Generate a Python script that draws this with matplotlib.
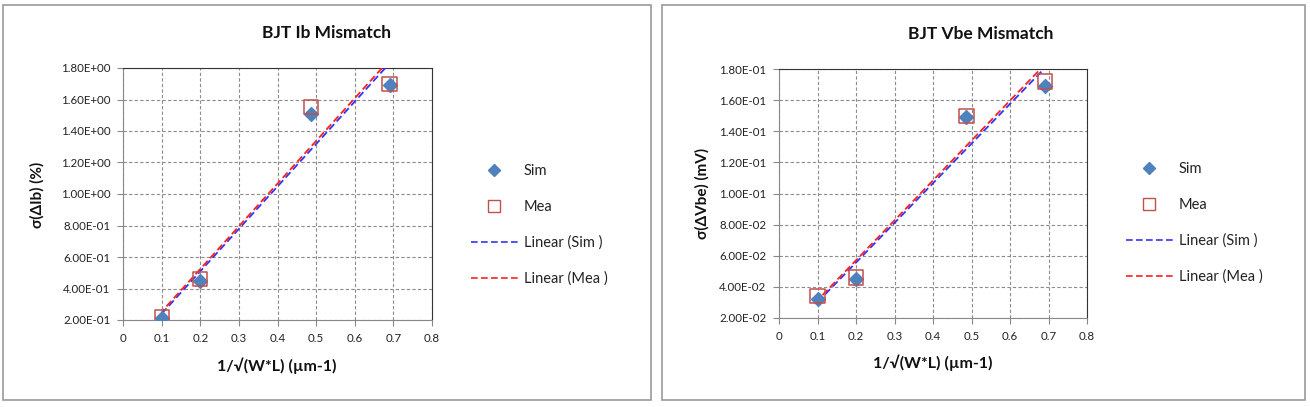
import numpy as np
import matplotlib
matplotlib.use("Agg")
import matplotlib.pyplot as plt
from matplotlib.patches import Rectangle
from matplotlib.ticker import FuncFormatter, MultipleLocator
from matplotlib.lines import Line2D

plt.rcParams['font.family'] = ['Lato', 'DejaVu Sans']

# data
x_vals = [0.1, 0.2, 0.487, 0.69]
ib_sim = [0.21, 0.45, 1.51, 1.69]
ib_mea = [0.22, 0.46, 1.55, 1.70]
vbe_sim = [0.032, 0.045, 0.149, 0.169]
vbe_mea = [0.034, 0.046, 0.150, 0.172]

titles = ["BJT Ib Mismatch", "BJT Vbe Mismatch"]
ylabels = ["σ(ΔIb) (%)", "σ(ΔVbe) (mV)"]
xlabel = "1/√(W*L) (µm-1)"
legend_labels = ["Sim", "Mea", "Linear (Sim )", "Linear (Mea )"]
ylims = [(0.2, 1.8), (0.02, 0.18)]
ysteps = [0.2, 0.02]

W, H = 1310, 407
fig = plt.figure(figsize=(W / 100, H / 100), dpi=100)

def fx(px):
    return px / W

def fy(py):
    return 1 - py / H

# chart frames
for (x0, y0, x1, y1) in [(3, 5, 651, 400), (662, 5, 1305, 400)]:
    fig.patches.append(Rectangle((fx(x0), fy(y1)), fx(x1 - x0), (y1 - y0) / H,
                                 transform=fig.transFigure, fill=False,
                                 edgecolor='#9a9a9a', linewidth=1.2))

axes_px = [(123, 68, 432, 320), (779, 69, 1087, 318)]
title_pos = [(326, 33), (981, 34)]
ylabel_pos = [(37, 195), (702, 193)]
xlabel_pos = [(277, 366), (933, 363)]
legend_anchor = [(458, 225), (1113, 223)]

series = [(ib_sim, ib_mea), (vbe_sim, vbe_mea)]

for i in range(2):
    l, t, r, b = axes_px[i]
    ax = fig.add_axes([fx(l), fy(b), fx(r - l), (b - t) / H])
    sim, mea = series[i]
    xs = np.array(x_vals)
    # trendlines
    xx = np.array([min(x_vals), max(x_vals)])
    ps = np.polyfit(xs, sim, 1)
    pm = np.polyfit(xs, mea, 1)
    ax.plot(xx, np.polyval(ps, xx), color='#3333ff', linestyle=(0, (4, 2)), linewidth=1.3, zorder=3)
    ax.plot(xx, np.polyval(pm, xx), color='#ff2020', linestyle=(2, (4, 2)), linewidth=1.3, zorder=3)
    ax.scatter(x_vals, sim, marker='D', s=50, color='#4F81BD', zorder=4)
    ax.scatter(x_vals, mea, marker='s', s=105, facecolors='none', edgecolors='#C0504D', linewidths=1.1, zorder=5)

    ax.set_xlim(0, 0.8)
    ax.set_ylim(*ylims[i])
    ax.xaxis.set_major_locator(MultipleLocator(0.1))
    ax.yaxis.set_major_locator(MultipleLocator(ysteps[i]))
    ax.xaxis.set_major_formatter(FuncFormatter(lambda v, p: '0' if abs(v) < 1e-9 else f'{v:.1f}'))
    ax.yaxis.set_major_formatter(FuncFormatter(lambda v, p: f'{v:.2E}'))
    ax.grid(True, color='#8c8c8c', linestyle=(0, (3, 2)), linewidth=0.8)
    ax.set_axisbelow(True)
    for s in ['left', 'bottom']:
        ax.spines[s].set_color('#888888')
    for s in ['top', 'right']:
        ax.spines[s].set_color('#333333')
    ax.tick_params(direction='out', length=4, width=0.8, color='#888888',
                   labelsize=8.3, labelcolor='#222222', pad=5)

    fig.text(fx(title_pos[i][0]), fy(title_pos[i][1]), titles[i], ha='center', va='center',
             fontsize=12.5, fontweight='bold', color='#111111')
    fig.text(fx(ylabel_pos[i][0]), fy(ylabel_pos[i][1]), ylabels[i], ha='center', va='center',
             rotation=90, fontsize=11, fontweight='bold', color='#111111')
    fig.text(fx(xlabel_pos[i][0]), fy(xlabel_pos[i][1]), xlabel, ha='center', va='center',
             fontsize=11.5, fontweight='bold', color='#111111')

    handles = [
        Line2D([], [], marker='D', color='#4F81BD', linestyle='none', markersize=6),
        Line2D([], [], marker='s', markerfacecolor='none', markeredgecolor='#C0504D', linestyle='none', markersize=8),
        Line2D([], [], color='#3333ff', linestyle=(0, (4, 2)), linewidth=1.2),
        Line2D([], [], color='#ff2020', linestyle=(0, (4, 2)), linewidth=1.2),
    ]
    fig.legend(handles, legend_labels, loc='center left',
               bbox_to_anchor=(fx(legend_anchor[i][0]), fy(legend_anchor[i][1])),
               frameon=False, fontsize=10.5, labelspacing=1.5, handlelength=3.2,
               handletextpad=0.4, labelcolor='#222222')

fig.savefig('out.png', dpi=100)
